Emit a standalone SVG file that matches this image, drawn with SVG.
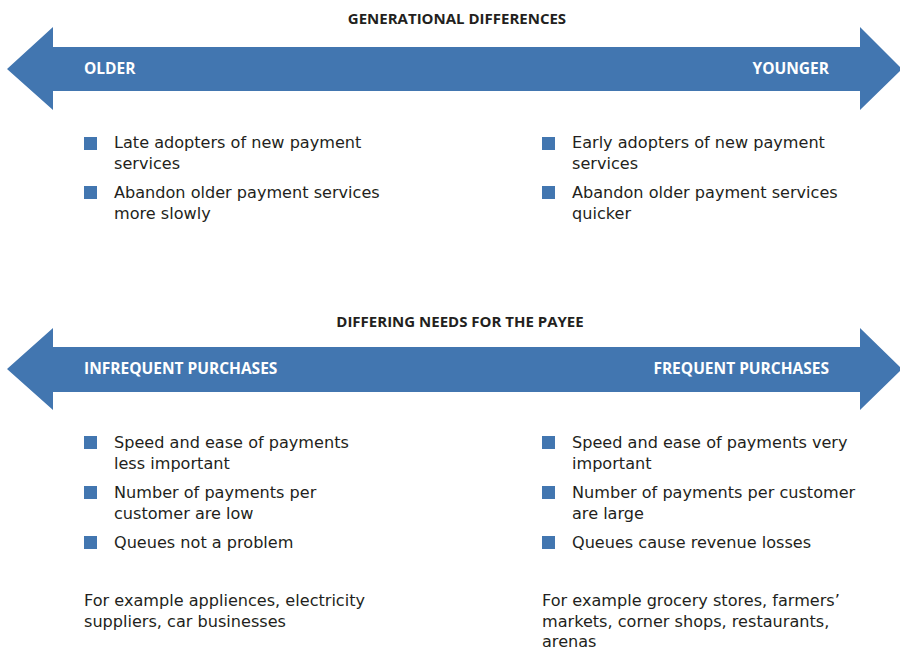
<svg xmlns="http://www.w3.org/2000/svg" width="900" height="651" viewBox="0 0 900 651">
<style>
.arrow{fill:#4276b0}
.title{font-family:"Open Sans","Liberation Sans",sans-serif;font-weight:bold;font-size:15px;fill:#231f20;text-anchor:middle}
.lab{font-family:"Open Sans","Liberation Sans",sans-serif;font-weight:bold;font-size:15.5px;fill:#ffffff}
.t{font-family:"DejaVu Sans","Open Sans",sans-serif;font-size:16.1px;fill:#231f20}
.b{fill:#4276b0}
</style>
<rect width="900" height="651" fill="#ffffff"/>
<g id="section-generational">
<text class="title" x="457" y="24">GENERATIONAL DIFFERENCES</text>
<g id="arrow-generational">
<polygon class="arrow" points="7,69 53,27 53,47 860,47 860,27 902,69 860,110 860,91 53,91 53,110"/>
<text class="lab" x="84" y="74">OLDER</text>
<text class="lab" x="829" y="74" text-anchor="end">YOUNGER</text>
</g>
<g id="older-list">
<rect class="b" x="84" y="137" width="13" height="13"/>
<text class="t" x="114" y="148">Late adopters of new payment</text>
<text class="t" x="114" y="169">services</text>
<rect class="b" x="84" y="186" width="13" height="13"/>
<text class="t" x="114" y="198">Abandon older payment services</text>
<text class="t" x="114" y="219">more slowly</text>
</g>
<g id="younger-list">
<rect class="b" x="542" y="137" width="13" height="13"/>
<text class="t" x="572" y="148">Early adopters of new payment</text>
<text class="t" x="572" y="169">services</text>
<rect class="b" x="542" y="186" width="13" height="13"/>
<text class="t" x="572" y="198">Abandon older payment services</text>
<text class="t" x="572" y="219">quicker</text>
</g>
</g>
<g id="section-payee">
<text class="title" x="460" y="327">DIFFERING NEEDS FOR THE PAYEE</text>
<g id="arrow-payee">
<polygon class="arrow" points="7,369 53,328 53,347 860,347 860,328 902,369 860,410 860,392 53,392 53,410"/>
<text class="lab" x="84" y="374">INFREQUENT PURCHASES</text>
<text class="lab" x="829" y="374" text-anchor="end">FREQUENT PURCHASES</text>
</g>
<g id="infrequent-list">
<rect class="b" x="84" y="436" width="13" height="13"/>
<text class="t" x="114" y="448">Speed and ease of payments</text>
<text class="t" x="114" y="469">less important</text>
<rect class="b" x="84" y="486" width="13" height="13"/>
<text class="t" x="114" y="498">Number of payments per</text>
<text class="t" x="114" y="519">customer are low</text>
<rect class="b" x="84" y="536" width="13" height="13"/>
<text class="t" x="114" y="548">Queues not a problem</text>
<text class="t" x="84" y="606">For example appliences, electricity</text>
<text class="t" x="84" y="627">suppliers, car businesses</text>
</g>
<g id="frequent-list">
<rect class="b" x="542" y="436" width="13" height="13"/>
<text class="t" x="572" y="448">Speed and ease of payments very</text>
<text class="t" x="572" y="469">important</text>
<rect class="b" x="542" y="486" width="13" height="13"/>
<text class="t" x="572" y="498">Number of payments per customer</text>
<text class="t" x="572" y="519">are large</text>
<rect class="b" x="542" y="536" width="13" height="13"/>
<text class="t" x="572" y="548">Queues cause revenue losses</text>
<text class="t" x="542" y="606">For example grocery stores, farmers’</text>
<text class="t" x="542" y="627">markets, corner shops, restaurants,</text>
<text class="t" x="542" y="647">arenas</text>
</g>
</g>
</svg>
